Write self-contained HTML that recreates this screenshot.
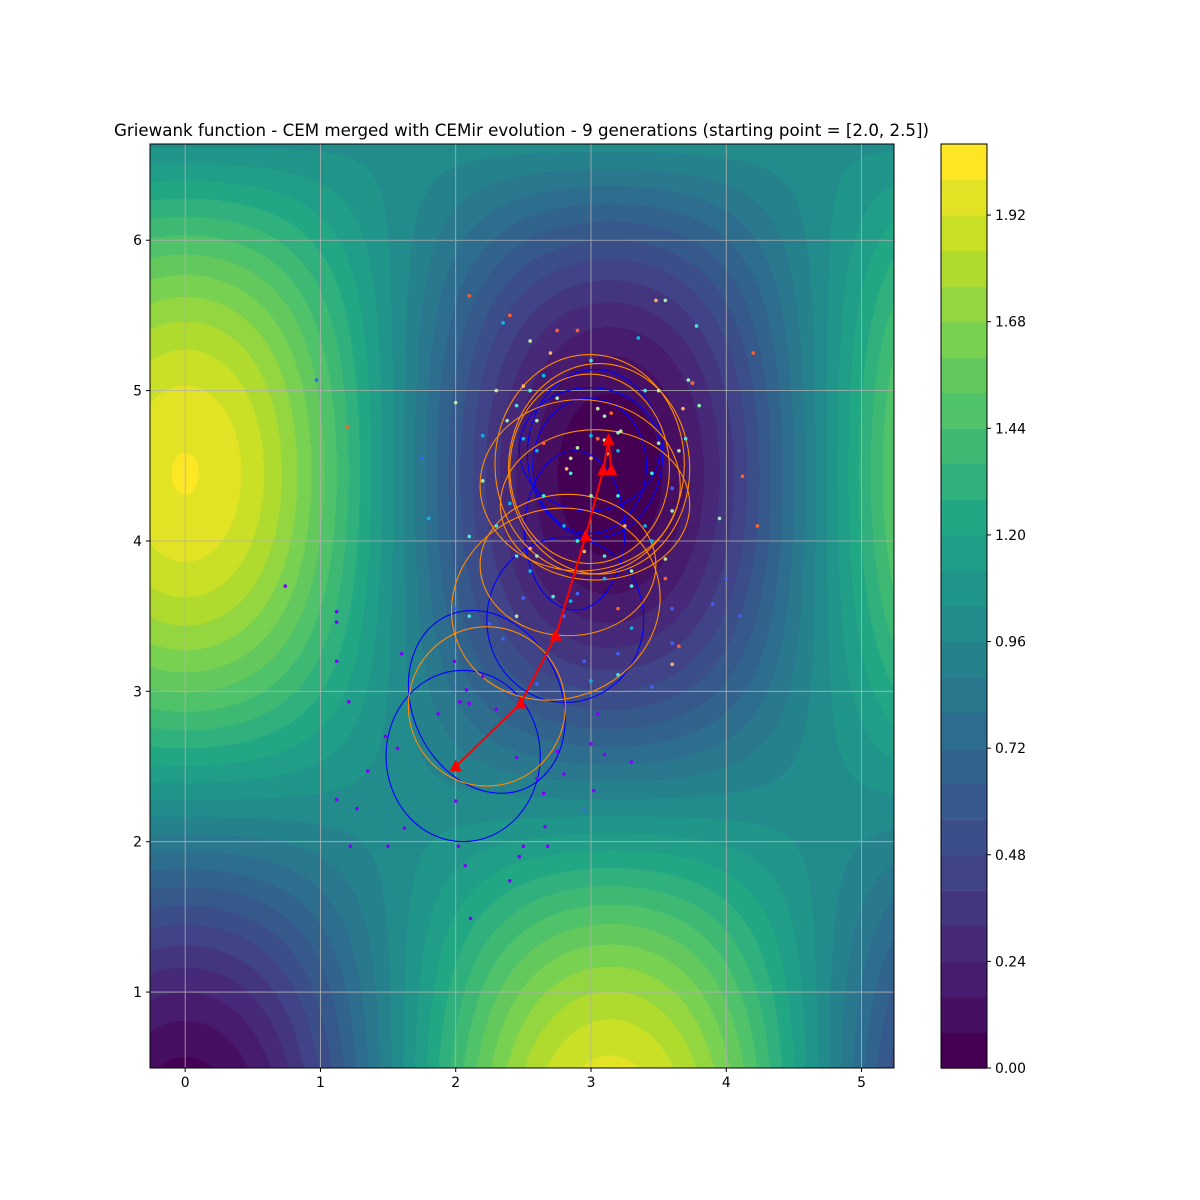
<!DOCTYPE html>
<html><head><meta charset="utf-8"><style>
body{margin:0;background:#fff;}
#wrap{position:relative;width:1200px;height:1200px;background:#fff;font-family:"DejaVu Sans","Liberation Sans",sans-serif;}
canvas,svg{position:absolute;left:0;top:0;}
svg text{font-family:"DejaVu Sans","Liberation Sans",sans-serif;}
</style></head><body>
<div id="wrap">
<canvas id="cv" width="1200" height="1200"></canvas>
<svg id="sv" width="1200" height="1200"></svg>
</div>
<script>
// ---- data ----
const xTicks=[0,1,2,3,4,5];
const yTicks=[1,2,3,4,5,6];
const cbTicks=[0,0.24,0.48,0.72,0.96,1.20,1.44,1.68,1.92];
const levelStep=0.08, levelMax=2.08;
const titleText="Griewank function - CEM merged with CEMir evolution - 9 generations (starting point = [2.0, 2.5])";
// ellipses: cx, cy, rx, ry, angle(deg)
const blueEllipses=[[2.055,2.57,0.57,0.57,0],[2.23,2.93,0.55,0.63,-25],[2.81,3.475,0.58,0.55,0],[2.88,4.07,0.37,0.53,0],[2.99,4.61,0.52,0.41,0],[3.03,4.58,0.50,0.56,0],[2.99,4.50,0.42,0.45,0]];
const orangeEllipses=[[2.23,2.90,0.58,0.53,0],[2.74,3.58,0.78,0.63,-20],[2.83,3.84,0.65,0.47,0],[2.99,4.51,0.70,0.73,0],[3.06,4.48,0.67,0.70,0],[2.99,4.48,0.59,0.63,0],[3.03,4.24,0.70,0.50,0],[2.92,4.37,0.74,0.57,0]];
const pathX=[2.0,2.48,2.74,2.96,3.09,3.13,3.15];
const pathY=[2.5,2.92,3.37,4.03,4.47,4.67,4.47];
// scatter points by generation
const gen0=[[2.0,2.27],[2.02,1.97],[2.07,1.84],[2.11,1.49],[2.4,1.74],[2.47,1.9],[2.5,1.97],[2.68,1.97],[2.66,2.1],[1.22,1.97],[1.5,1.97],[1.62,2.09],[1.27,2.22],[1.12,2.28],[1.35,2.47],[1.48,2.7],[1.57,2.62],[1.6,3.25],[1.12,3.2],[1.21,2.93],[1.12,3.46],[1.12,3.53],[0.74,3.7],[1.87,2.85],[2.03,2.93],[2.1,2.92],[2.08,3.01],[2.45,2.56],[2.6,2.42],[2.75,2.6],[2.8,2.45],[2.65,2.32],[3.02,2.34],[3.1,2.58],[3.3,2.53],[3.0,2.65],[3.05,2.85],[2.3,2.88],[2.2,3.1],[1.99,3.2]];
const gen1=[[2.0,3.55],[2.25,3.45],[2.35,3.35],[2.6,3.05],[2.95,3.2],[3.2,3.25],[3.45,3.03],[3.6,3.32],[3.9,3.58],[4.1,3.5],[2.8,3.5],[2.9,3.65],[3.6,3.55],[1.75,4.55],[3.6,4.35],[4.0,3.75],[2.95,2.21],[2.5,3.62],[0.97,5.07]];
const gen2=[[2.55,3.8],[2.85,3.6],[3.1,3.75],[3.3,3.42],[3.4,4.1],[2.4,4.25],[2.6,4.6],[2.8,4.1],[3.0,4.7],[3.2,4.6],[3.45,4.0],[2.2,4.7],[2.65,5.1],[2.35,5.45],[3.35,5.35],[2.72,3.35],[3.0,3.07],[2.5,4.68],[1.8,4.15]];
const gen3=[[2.1,3.5],[2.45,3.9],[2.9,4.0],[3.1,3.9],[3.3,3.7],[2.65,4.3],[2.85,4.45],[3.2,4.3],[3.45,4.45],[3.7,4.68],[2.3,4.1],[2.55,5.0],[3.0,5.2],[3.4,5.0],[3.78,5.43],[2.45,4.9],[2.72,3.63],[3.2,3.11],[2.1,4.03]];
const gen4=[[2.6,4.8],[3.1,4.83],[3.6,4.2],[3.3,3.8],[2.75,4.95],[3.2,4.72],[2.6,3.9],[3.0,4.3],[3.5,4.65],[2.38,4.8],[3.8,4.9],[3.95,4.15],[2.2,4.4],[3.55,5.6],[3.72,5.07]];
const gen5=[[2.3,5.0],[2.55,5.33],[2.85,4.55],[3.22,4.73],[3.05,4.88],[3.55,3.88],[2.0,4.92],[3.65,4.6],[3.5,5.0],[2.45,3.5],[2.9,4.62],[3.1,4.67]];
const gen6=[[2.5,5.03],[2.7,5.25],[2.55,3.95],[2.95,3.93],[3.25,4.1],[3.6,3.18],[3.75,5.05],[3.0,4.55],[3.12,4.58],[2.82,4.48],[3.68,4.88],[3.48,5.6]];
const gen7=[[2.4,5.5],[2.75,5.4],[2.9,5.4],[3.15,4.85],[3.2,3.55],[3.55,3.75],[3.65,3.3],[4.12,4.43],[4.23,4.1],[4.2,5.25],[1.2,4.76],[2.1,5.63],[3.05,4.68],[2.65,4.65],[3.75,5.05]];
const gens=[gen0,gen1,gen2,gen3,gen4,gen5,gen6,gen7];
const genColors=["#8000ff","#3f63fa","#04b9ea","#40ecd4","#9af0b0","#c0e89b","#ffb360","#ff6030"];
// ---- layout ----
const L=150,R=894,T=144,B=1068,xmin=-0.26,xmax=5.24,ymin=0.495,ymax=6.64;
const sx=v=>L+(v-xmin)/(xmax-xmin)*(R-L);
const sy=v=>B-(v-ymin)/(ymax-ymin)*(B-T);
const kx=(R-L)/(xmax-xmin), ky=(B-T)/(ymax-ymin);
const CBL=941,CBR=987;
const cby=v=>B-v/levelMax*(B-T);
const vir=[[68,1,84],[72,35,116],[64,67,135],[52,94,141],[41,120,142],[32,144,140],[34,167,132],[68,190,112],[121,209,81],[189,222,38],[253,231,37]];
function viridis(t){t=Math.max(0,Math.min(1,t));const p=t*(vir.length-1),i=Math.min(vir.length-2,Math.floor(p)),f=p-i;return vir[i].map((c,k)=>Math.round(c+(vir[i+1][k]-c)*f));}
const nLev=Math.round(levelMax/levelStep);
function bandColor(b){return viridis(b/(nLev-1));}
function grie(x,y){return 1+(x*x+y*y)/4000-Math.cos(x)*Math.cos(y/Math.SQRT2);}
const cv=document.getElementById('cv'),ctx=cv.getContext('2d');
const img=ctx.createImageData(R-L,B-T);
for(let j=0;j<B-T;j++){for(let i=0;i<R-L;i++){const x=xmin+(i+0.5)/kx,y=ymax-(j+0.5)/ky;let b=Math.floor(grie(x,y)/levelStep);b=Math.max(0,Math.min(nLev-1,b));const c=bandColor(b);const o=(j*(R-L)+i)*4;img.data[o]=c[0];img.data[o+1]=c[1];img.data[o+2]=c[2];img.data[o+3]=255;}}
ctx.putImageData(img,L,T);
for(let b=0;b<nLev;b++){const c=bandColor(b);ctx.fillStyle=`rgb(${c})`;const y1=cby(b*levelStep),y2=cby((b+1)*levelStep);ctx.fillRect(CBL,y2,CBR-CBL,y1-y2+0.5);}
const NS="http://www.w3.org/2000/svg",sv=document.getElementById('sv');
function mk(t,a,p){const e=document.createElementNS(NS,t);for(const k in a)e.setAttribute(k,a[k]);(p||sv).appendChild(e);return e;}
// grid
xTicks.forEach(v=>{const g=mk('line',{x1:sx(v),x2:sx(v),y1:T,y2:B,stroke:'#b0b0b0','stroke-width':0.8});

});
yTicks.forEach(v=>{const g=mk('line',{x1:L,x2:R,y1:sy(v),y2:sy(v),stroke:'#b0b0b0','stroke-width':0.8});

});
// ellipses
function ell(arr,col,name){arr.forEach(e=>{const el=mk('ellipse',{cx:sx(e[0]),cy:sy(e[1]),rx:e[2]*kx,ry:e[3]*ky,fill:'none',stroke:col,'stroke-width':1.1,transform:`rotate(${e[4]} ${sx(e[0])} ${sy(e[1])})`});

});}
ell(blueEllipses,'#0000ff','blue-covariance-ellipse');
ell(orangeEllipses,'#ff8c00','orange-covariance-ellipse');
// points
gens.forEach((g,gi)=>g.forEach(p=>{const c=mk('circle',{cx:sx(p[0]),cy:sy(p[1]),r:1.8,fill:genColors[gi]});

}));
// path
let d='';pathX.forEach((x,i)=>{d+=(i?'L':'M')+sx(x)+','+sy(pathY[i]);});
const pl=mk('path',{d:d,fill:'none',stroke:'#ff0000','stroke-width':2});


pathX.forEach((x,i)=>{const X=sx(x),Y=sy(pathY[i]);const h=mk('polygon',{points:`${X-6},${Y+5} ${X+6},${Y+5} ${X},${Y-7}`,fill:'#ff0000'});

});
// frames
const f1=mk('rect',{x:L,y:T,width:R-L,height:B-T,fill:'none',stroke:'#000','stroke-width':1});


const f2=mk('rect',{x:CBL,y:T,width:CBR-CBL,height:B-T,fill:'none',stroke:'#000','stroke-width':1});


// ticks
xTicks.forEach(v=>{mk('line',{x1:sx(v),x2:sx(v),y1:B,y2:B+4,stroke:'#000'});const t=mk('text',{x:sx(v),y:B+19,'text-anchor':'middle','font-size':13.9});t.textContent=v;

});
yTicks.forEach(v=>{mk('line',{x1:L-4,x2:L,y1:sy(v),y2:sy(v),stroke:'#000'});const t=mk('text',{x:L-8,y:sy(v)+5,'text-anchor':'end','font-size':13.9});t.textContent=v;

});
cbTicks.forEach(v=>{mk('line',{x1:CBR,x2:CBR+4,y1:cby(v),y2:cby(v),stroke:'#000'});const t=mk('text',{x:CBR+8,y:cby(v)+5,'font-size':13.9});t.textContent=v.toFixed(2);

});
const tt=mk('text',{x:114,y:136,'font-size':16.7,textLength:815,lengthAdjust:'spacingAndGlyphs'});tt.textContent=titleText;


</script>
</body></html>
